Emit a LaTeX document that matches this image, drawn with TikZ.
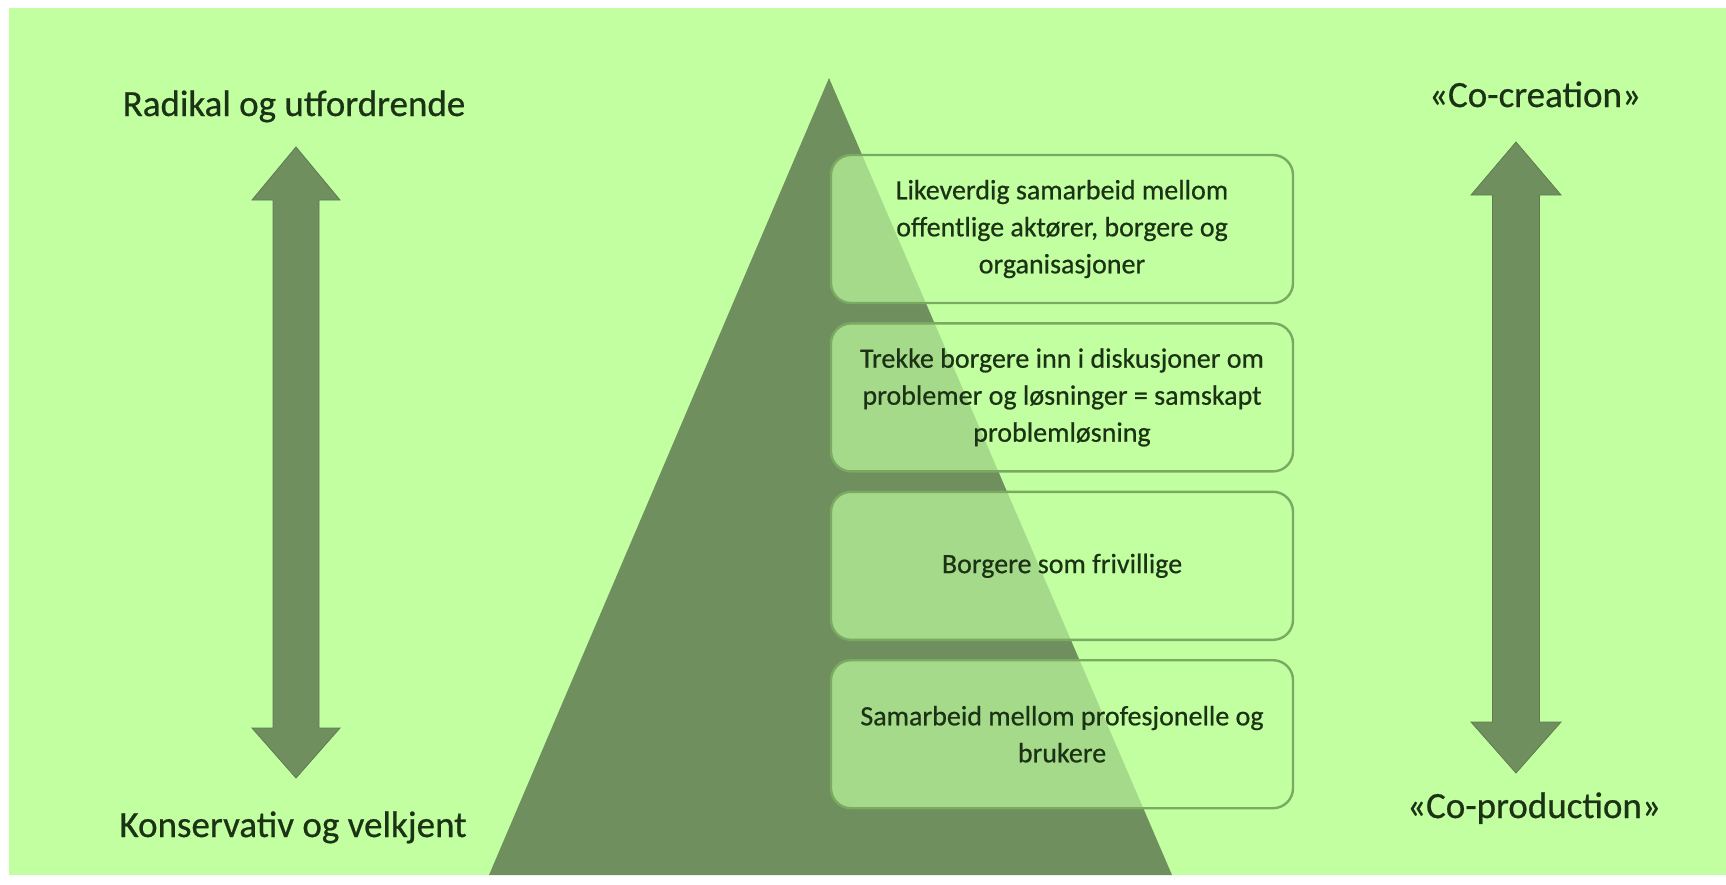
\documentclass[tikz,border=0pt]{standalone}
\usepackage{fontspec}
\setmainfont{Carlito}
\newfontfamily\heavyfont{Carlito}[FakeBold=0.6]
\usepackage{tikz}
\usetikzlibrary{positioning}

\definecolor{bggreen}{RGB}{193,255,161}
\definecolor{pyrgreen}{RGB}{112,143,94}
\definecolor{edgegreen}{RGB}{122,170,98}
\definecolor{txtgreen}{RGB}{28,50,20}

\tikzset{
  levelbox/.style={draw=edgegreen, line width=2.4pt, fill=bggreen, fill opacity=0.68,
    text opacity=1, rounded corners=20pt, minimum width=462pt, minimum height=148pt,
    align=center, text=txtgreen, font=\heavyfont\fontsize{28}{37}\selectfont},
  sidelabel/.style={anchor=base, text=txtgreen, font=\heavyfont\fontsize{37}{44}\selectfont},
  bigarrow/.style={fill=pyrgreen, draw=pyrgreen!85!black, line width=0.8pt}
}

\begin{document}
\begin{tikzpicture}[x=1pt,y=-1pt]
    % Frame and background
    \useasboundingbox (0,0) rectangle (1726,884);
    \fill[white] (0,0) rectangle (1726,884);
    \fill[bggreen] (9,8) rectangle (1726,875);

    % The pyramid
    \fill[pyrgreen] (829,78) -- (1172,875) -- (489,875) -- cycle;

    % Left double arrow
    \fill[bigarrow] (296,147) -- (340,200) -- (319,200) -- (319,728) -- (340,728)
        -- (296,778) -- (252,728) -- (273,728) -- (273,200) -- (252,200) -- cycle;

    % Right double arrow
    \fill[bigarrow] (1516,142) -- (1561,195) -- (1539.5,195) -- (1539.5,722) -- (1561,722)
        -- (1516,773) -- (1471,722) -- (1492.5,722) -- (1492.5,195) -- (1471,195) -- cycle;

    % Labels at the ends of the arrows
    \node[sidelabel] (radikal) at (294,116) {Radikal og utfordrende};
    \node[sidelabel] (konservativ) at (293,837) {Konservativ og velkjent};
    \node[sidelabel] (cocreation) at (1535,107) {«Co-creation»};
    \node[sidelabel] (coproduction) at (1534,818) {«Co-production»};

    % The four levels
    \node[levelbox] (likeverdig) at (1062,229)
        {Likeverdig samarbeid mellom\\offentlige aktører, borgere og\\organisasjoner};
    \node[levelbox, below=18pt of likeverdig] (trekke)
        {Trekke borgere inn i diskusjoner om\\problemer og løsninger = samskapt\\problemløsning};
    \node[levelbox, below=18pt of trekke] (frivillige) {Borgere som frivillige};
    \node[levelbox, below=18pt of frivillige] (samarbeid)
        {Samarbeid mellom profesjonelle og\\brukere};
\end{tikzpicture}
\end{document}
